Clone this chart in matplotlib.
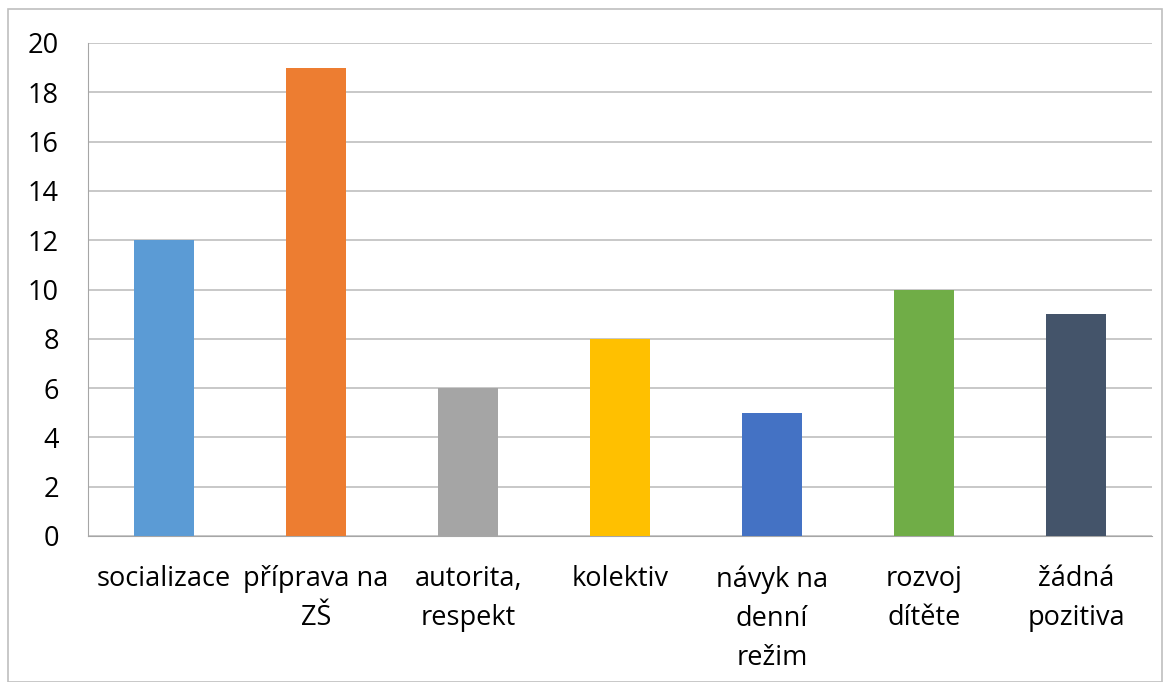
import matplotlib.pyplot as plt
from matplotlib.patches import Rectangle

categories = ['socializace', 'příprava na\nZŠ', 'autorita,\nrespekt', 'kolektiv',
              'návyk na\ndenní\nrežim', 'rozvoj\ndítěte', 'žádná\npozitiva']
values = [12, 19, 6, 8, 5, 10, 9]
colors = ['#5B9BD5', '#ED7D31', '#A5A5A5', '#FFC000', '#4472C4', '#70AD47', '#44546A']

plt.rcParams['font.family'] = ['Open Sans', 'DejaVu Sans']

fig = plt.figure(figsize=(11.7, 6.82), dpi=100)
W, H = 1170, 682
ax = fig.add_axes([88 / W, 1 - 536 / H, (1152 - 88) / W, (536 - 43) / H])

x = range(len(categories))
ax.bar(x, values, width=0.4, color=colors, zorder=3)

ax.set_xlim(-0.5, len(categories) - 0.5)
ax.set_ylim(0, 20)
ax.set_yticks(range(0, 21, 2))
ax.set_xticks(list(x))
ax.set_xticklabels(categories, fontsize=19.5, linespacing=1.52, va='top')
ax.tick_params(axis='y', labelsize=19.5, length=0, pad=21)
ax.tick_params(axis='x', length=0, pad=21)
ax.grid(axis='y', color='#BFBFBF', linewidth=1.2, zorder=0)
ax.spines['top'].set_visible(False)
ax.spines['right'].set_visible(False)
ax.spines['bottom'].set_color('#A6A6A6')
ax.spines['left'].set_color('#A6A6A6')

fig.patches.append(Rectangle((8 / W, 0), (1162 - 8) / W, 1 - 9 / H, transform=fig.transFigure,
                             fill=False, edgecolor='#BFBFBF', linewidth=1.2))

fig.savefig('out.png', dpi=100)
